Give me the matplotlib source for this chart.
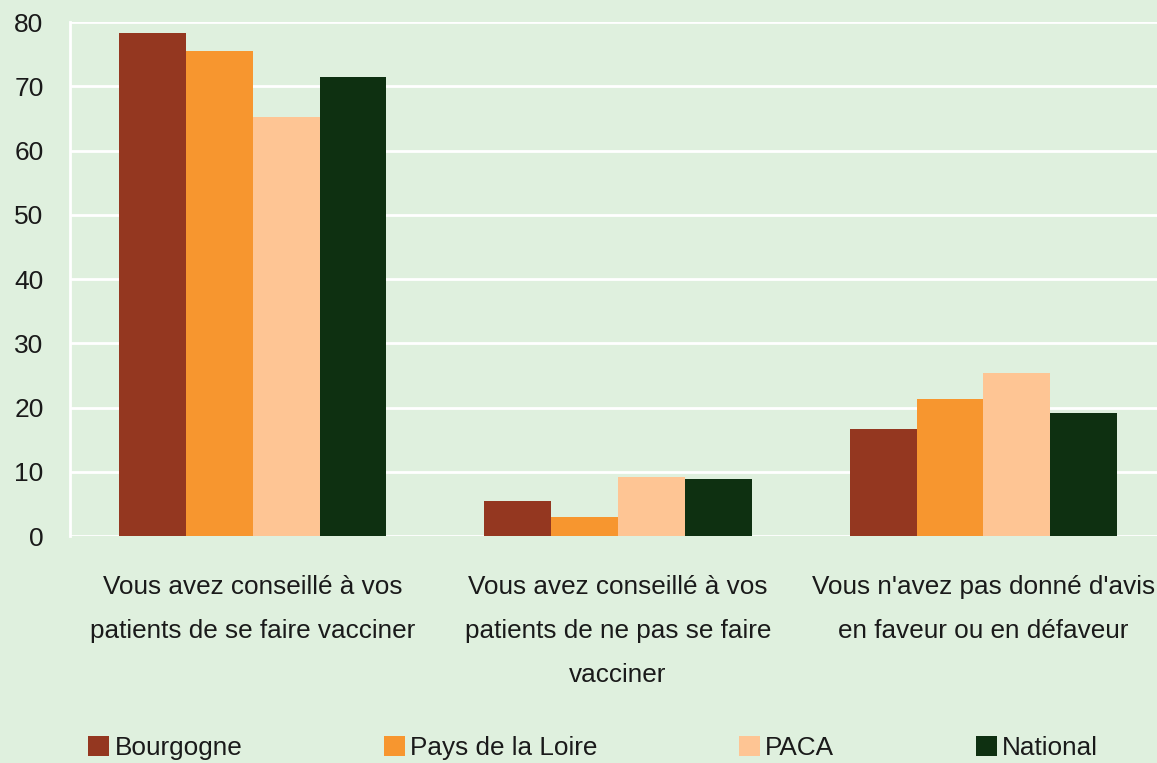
import numpy as np
import matplotlib.pyplot as plt

plt.rcParams['font.family'] = ['Liberation Sans', 'DejaVu Sans']

categories = ["Vous avez conseillé à vos\npatients de se faire vacciner",
              "Vous avez conseillé à vos\npatients de ne pas se faire\nvacciner",
              "Vous n'avez pas donné d'avis\nen faveur ou en défaveur"]
regions = ['Bourgogne', 'Pays de la Loire', 'PACA', 'National']
bourgogne = [78.3, 5.4, 16.7]
pays_loire = [75.5, 3.0, 21.3]
paca = [65.2, 9.2, 25.4]
national = [71.5, 8.9, 19.1]
yticks = [0, 10, 20, 30, 40, 50, 60, 70, 80]

colors = ['#943720', '#f7962f', '#fec594', '#0e3011']
bg = '#dff0de'

fig = plt.figure(figsize=(11.57, 7.63), dpi=100, facecolor=bg)
ax = fig.add_axes([0.0605, 0.2975, 0.9395, 0.6735])
ax.set_facecolor(bg)

x = np.arange(len(categories))
w = 0.183
for i, (vals, name) in enumerate(zip([bourgogne, pays_loire, paca, national], regions)):
    ax.bar(x + (i - 1.5) * w, vals, width=w, color=colors[i], label=name, zorder=3)

ax.set_ylim(0, 80)
ax.set_xlim(-0.5, 2.475)
ax.set_yticks(yticks)
ax.yaxis.grid(True, color='white', linewidth=2, zorder=0)
ax.tick_params(axis='y', length=0, pad=19, labelsize=19, labelcolor='#1a1a1a')
ax.tick_params(axis='x', length=0, pad=28, labelsize=18.8, labelcolor='#1a1a1a')
ax.set_xticks(x)
ax.set_xticklabels(categories, linespacing=2.05)
for side in ['top', 'right', 'bottom']:
    ax.spines[side].set_visible(False)
ax.spines['left'].set_color('white')
ax.spines['left'].set_linewidth(2)

fig.legend(loc='lower left', bbox_to_anchor=(0.056, -0.027), ncol=4, frameon=False,
           fontsize=18.8, handlelength=0.8, handleheight=0.8, handletextpad=0.2,
           columnspacing=5.43, labelcolor='#1a1a1a')

fig.savefig('out.png', dpi=100, facecolor=bg)
